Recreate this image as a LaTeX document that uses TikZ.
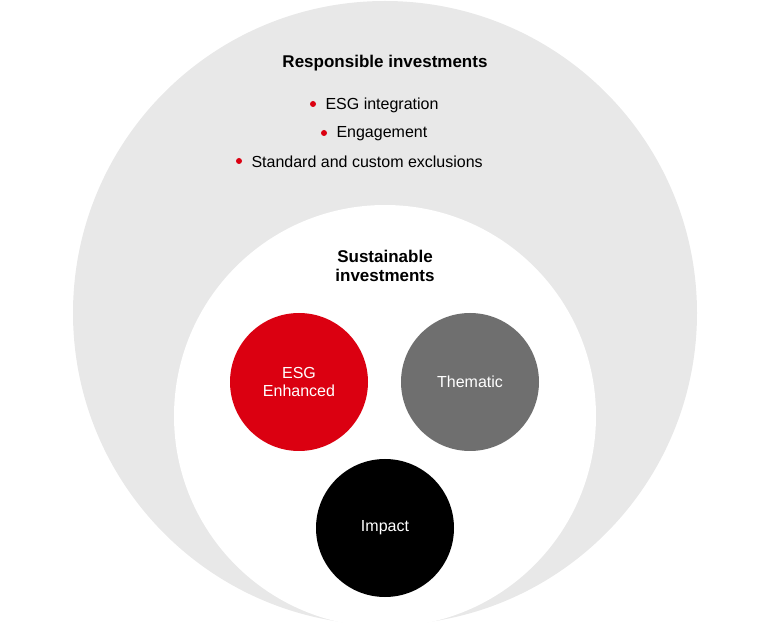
\documentclass[tikz,border=0pt]{standalone}
\usepackage{fontspec}
\setmainfont{Liberation Sans}
\definecolor{lg}{HTML}{E8E8E8}
\definecolor{ered}{HTML}{DB0011}
\definecolor{dg}{HTML}{6F6F6F}
\begin{document}
\begin{tikzpicture}[x=1pt,y=-1pt,
  circ/.style={circle,minimum size=138pt,inner sep=0pt,text=white,font=\fontsize{16}{18}\selectfont,align=center},
  item/.style={font=\fontsize{16}{18}\selectfont,anchor=west},
  dot/.style={circle,fill=ered,inner sep=0pt,minimum size=6pt}]
\useasboundingbox (0,0) rectangle (780,628);
\fill[lg] (385,313) circle (312);
\fill[white] (385,416) circle (211);
\node[font=\fontsize{17}{20}\selectfont\bfseries] (t1) at (385,63) {Responsible investments};
\node[dot] (d1) at (313,104) {};
\node[item] (i1) at (322,105) {ESG integration};
\node[dot] (d2) at (324,133) {};
\node[item] (i2) at (333,134) {Engagement};
\node[dot] (d3) at (239,161) {};
\node[item] (i3) at (248,162) {Standard and custom exclusions};
\node[font=\fontsize{17}{19}\selectfont\bfseries,align=center] (t2) at (385,266) {Sustainable\\investments};
\node[circ,fill=ered] (a) at (299,382) {ESG\\Enhanced};
\node[circ,fill=dg] (b) at (470,382) {Thematic};
\node[circ,fill=black] (c) at (385,528) {Impact};
\end{tikzpicture}
\end{document}
